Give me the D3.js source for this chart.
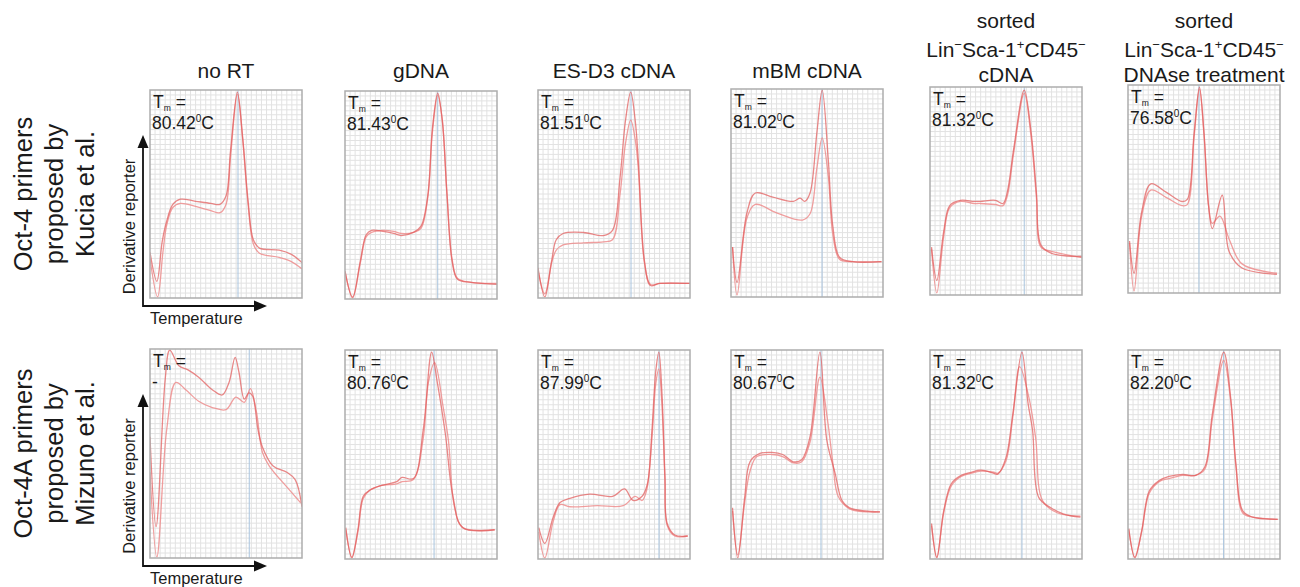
<!DOCTYPE html>
<head>
<meta charset="utf-8">
<title>Oct-4 melt curves</title>
<script src="https://d3js.org/d3.v7.min.js"></script>
<style>
  body { margin: 0; background: #fff; }
  text { font-family: "Liberation Sans", Arial, sans-serif; fill: #1a1a1a; }
</style>
</head>
<body>
<div id="chart"></div>
<script>
// column / row headers
var colTitles = [["no RT"], ["gDNA"], ["ES-D3 cDNA"], ["mBM cDNA"],
  ["sorted", "Lin^-Sca-1^+CD45^-", "cDNA"],
  ["sorted", "Lin^-Sca-1^+CD45^-", "DNAse treatment"]];
var rowLabels = [["Oct-4 primers", "proposed by", "Kucia et al."],
  ["Oct-4A primers", "proposed by", "Mizuno et al."]];

// Tm values and where the Tm marker sits (% of panel width)
var tmKucia = ["80.42", "81.43", "81.51", "81.02", "81.32", "76.58"];
var tmMizuno = ["-", "80.76", "87.99", "80.67", "81.32", "82.20"];
var tmPosKucia = [57.9, 61, 61.2, 59.9, 62, 46.7];
var tmPosMizuno = [65.3, 58.6, 79.6, 59.2, 60.5, 62.9];

// melt curves, [temperature %, derivative %], two replicates per panel
var kuciaA = [
  [[0,22],[4.5,8],[8,27],[11,37],[15,45],[20,47.5],[30,46.5],[40,45.5],[46,45],[50,49],[53,71],[57.5,99],[61,77],[64.5,47],[68,28],[72,24],[85,23],[93,21],[100,17]],
  [[0,13.5],[5,0.5],[10,18],[14,31],[17.5,33],[25,32.5],[32,31.5],[37,30.5],[45,32],[50,35],[54.5,50],[57.5,82],[61,99],[64,86],[67,51],[70.5,18],[74,9.5],[83,8],[100,7]],
  [[0,14.5],[4.5,0.5],[9,18],[12,28],[16.5,31],[30,31.5],[43,30],[49,32.5],[54,58],[57.5,85],[61,99],[64,85],[66,66],[70,18],[74,6],[80,7],[100,7]],
  [[1,24],[4,7],[10.5,40.5],[16,50],[27.5,48],[41,46],[45.5,47.5],[48.5,46],[52,50],[56.5,79],[60,99.5],[64,66],[67,34],[71.5,19],[80,17],[99,17]],
  [[1,23],[4.5,7],[9,30.5],[13,43],[20,45.5],[29,45],[33,45],[43,45.5],[48,44],[51,50],[55,70],[62,98.5],[66.5,78.5],[70,49.5],[73,24],[80,20],[100,18.5]],
  [[1,25],[4,9.5],[9,39],[15,52.5],[25,48.5],[35.5,44],[39,45],[43.5,77],[47,99],[50,77],[53,42],[55.5,31],[62,47],[66.5,20],[75,12],[98,9]]
];
var kuciaB = [
  [[0,19],[5,0.5],[8.5,22],[11,35],[15,43.5],[20,45.5],[30,44],[40,42],[46,41],[50,45],[53,68],[57.5,98],[61,76],[64.5,45],[68,26],[72,21.5],[85,19.5],[93,17.5],[100,14]],
  [[0,13],[5,1],[10,17],[14,30],[17.5,32],[25,33],[32,32.5],[37,31.5],[45,32],[50,34],[54.5,49],[57.5,80],[61,98],[64,86],[67,52],[70.5,19],[74,10],[83,8],[100,7.5]],
  [[0,13],[4.5,2],[9,17],[12,23],[16.5,25.5],[30,26.5],[43,27],[49,28],[54,50],[57.5,74],[61,85.5],[64,76],[66,62],[70,17],[74,6.5],[80,7],[100,7]],
  [[1,24],[4,1],[10.5,38],[16,44.5],[30,40.5],[47,37],[52,40],[56.5,62],[60,76.5],[64,58],[67,30],[71.5,18],[80,17],[99,17]],
  [[1,22],[4.5,1],[9,28],[13,42],[20,45],[29,44],[33,44],[43,43.5],[48,43],[51,48],[55,68],[62,97],[66.5,76],[70,47],[73,23],[80,21],[100,18]],
  [[1,24],[4,1],[9,37],[15,49.5],[25,46],[35.5,42],[39,42.5],[43.5,75],[47,98],[50,76],[53,42],[55.5,33.5],[60.5,37],[66.5,26],[75,14],[98,9.5]]
];
var mizunoA = [
  [[0,58],[4,15],[10,85.5],[13,99.5],[19,92],[25,90],[32,86.5],[41,80.5],[47.5,78],[52,84],[56,96],[58.5,89],[62,76],[65,79],[67.5,77.5],[71,61.5],[74,53],[81,44],[90,41],[95.5,37.5],[100,24.5]],
  [[0.5,15],[4.5,0.5],[8.5,14],[12,30],[16.5,33],[23,35],[34,37],[37.5,39],[45,38.5],[51.5,62],[57,99],[60.5,85.5],[66,60],[71,30],[77.5,15],[98.5,14]],
  [[0.5,15],[4.5,7.5],[10,20],[14.5,27],[21,29],[34,31],[49,30],[57,33.5],[62.5,28],[68.5,30],[72,36],[75,62],[77.5,90],[79.5,99],[81.5,80],[83.5,40],[85,17],[90,11.5],[98.5,11]],
  [[1,24.5],[4.5,0.5],[9,29.5],[12.5,46.5],[19,50.5],[27,51],[34,50],[41,46.5],[46.5,47.5],[52,58.5],[58.5,99],[63,57],[68.5,41],[73,28],[78,24.5],[98,22.5]],
  [[1,17],[4.5,0.5],[9,23],[14,36],[20.5,40],[27,41.5],[33.5,42.5],[42,41],[44.5,40.5],[50,48.5],[54.5,69.5],[60.5,99],[64.5,74.5],[67.5,61.5],[71.5,29.5],[79.5,24.5],[88,21.5],[99,20]],
  [[0.5,14.5],[4.5,0.5],[9,13.5],[14,32.5],[20.5,37.5],[27,39.5],[36,40.5],[44.5,40],[50.5,44],[55.5,69.5],[63,99],[67.5,77.5],[71,45.5],[75.5,23],[82,20],[98.5,19]]
];
var mizunoB = [
  [[0,41],[4.5,0.5],[11,61.5],[17,84],[23.5,80.5],[32,75],[41,72],[50,71],[56.5,77],[62,74.5],[66,81],[70,70],[74,50.5],[78.5,44],[90,34],[99,26.5]],
  [[0.5,14],[4.5,1],[8.5,13],[12,29],[16.5,33],[23,35],[34,36],[37.5,37],[45,38],[51.5,58],[55,85],[59,94],[64.5,73],[68,57],[72,25],[77.5,15],[98.5,14]],
  [[0.5,13],[4.5,0.5],[10,18],[14.5,26],[21,25],[39,25.5],[56,25.5],[64,30],[68.5,28],[71.5,33],[75,58],[77.5,84],[79.5,91],[81.5,74],[83.5,38],[85,16],[90,11],[98.5,11]],
  [[1,23],[4.5,2],[9,27],[12.5,42],[17,49],[27,50],[34,49],[41,46],[46.5,46.5],[52,56],[58.5,87],[63.5,66.5],[67,46],[70.5,30],[78,24],[98,22.5]],
  [[1,16],[4.5,1],[9,22],[14,35],[20.5,39.5],[27,41],[33.5,42],[42,41.5],[44.5,41],[50,47],[54.5,68],[59,92],[65,77.5],[69.5,58],[74,28],[84,22],[99,20.5]],
  [[0.5,14],[4.5,1],[9,13],[14,31.5],[20.5,37],[27,38.5],[36,40],[44.5,40],[50.5,43],[55.5,67],[63,95],[67.5,76],[71,44],[75.5,22],[82,20],[98.5,19]]
];

// layout
var colLeft = [150, 345, 538, 731, 930, 1128];
var panelW = 152;
var rowTop = [[90, 91, 90, 89, 87, 85], [349, 350, 350, 350, 350, 350]];
var panelH = [208, 209];

var rows = [
  {a: kuciaA, b: kuciaB, tm: tmKucia, tmPos: tmPosKucia, labels: rowLabels[0]},
  {a: mizunoA, b: mizunoB, tm: tmMizuno, tmPos: tmPosMizuno, labels: rowLabels[1]}
];

var svg = d3.select("#chart").append("svg")
  .attr("width", 1300)
  .attr("height", 587);

var defs = svg.append("defs");

// writes "Lin^-Sca" style strings with raised characters
function supText(sel, str) {
  var back = 0;
  str.split(/(\^.)/).forEach(function(p) {
    if (!p) return;
    if (p[0] === "^") {
      sel.append("tspan").attr("font-size", 13).attr("dy", -8)
        .text(p[1] === "-" ? "\u2212" : p[1]);
      back = 8;
    } else {
      sel.append("tspan").attr("dy", back).text(p);
      back = 0;
    }
  });
}

// column titles
colTitles.forEach(function(lines, c) {
  var cx = colLeft[c] + panelW / 2;
  var base = lines.length === 1 ? [78] : [28, 57, 82];
  lines.forEach(function(line, i) {
    var t = svg.append("text")
      .attr("x", cx).attr("y", base[i])
      .attr("text-anchor", "middle")
      .attr("font-size", 21);
    supText(t, line);
  });
});

var line = d3.line().curve(d3.curveCatmullRom.alpha(0.5));

rows.forEach(function(row, r) {
  var h = panelH[r];

  d3.range(6).forEach(function(c) {
    var x0 = colLeft[c], y0 = rowTop[r][c];
    var x = d3.scaleLinear().domain([0, 100]).range([x0, x0 + panelW]);
    var y = d3.scaleLinear().domain([0, 100]).range([y0 + h, y0]);
    var g = svg.append("g");

    g.append("rect")
      .attr("x", x0).attr("y", y0).attr("width", panelW).attr("height", h)
      .attr("fill", "#fff");

    // fine grid
    g.selectAll(".vg").data(d3.range(1, 30).map(function(i) { return i * 100 / 30; }))
      .enter().append("line")
      .attr("x1", function(d) { return x(d); }).attr("x2", function(d) { return x(d); })
      .attr("y1", y0).attr("y2", y0 + h)
      .attr("stroke", "#e2e2e2").attr("stroke-width", 1);
    g.selectAll(".hg").data(d3.range(1, 42).map(function(i) { return i * 100 / 42; }))
      .enter().append("line")
      .attr("y1", function(d) { return y(d); }).attr("y2", function(d) { return y(d); })
      .attr("x1", x0).attr("x2", x0 + panelW)
      .attr("stroke", "#e2e2e2").attr("stroke-width", 1);

    // Tm marker
    g.append("line")
      .attr("x1", x(row.tmPos[c])).attr("x2", x(row.tmPos[c]))
      .attr("y1", y0).attr("y2", y0 + h)
      .attr("stroke", "#a9c4de").attr("stroke-width", 1);

    var clipId = "clip" + r + c;
    defs.append("clipPath").attr("id", clipId)
      .append("rect").attr("x", x0).attr("y", y0).attr("width", panelW).attr("height", h);

    line.x(function(d) { return x(d[0]); }).y(function(d) { return y(d[1]); });

    g.append("path")
      .attr("d", line(row.b[c]))
      .attr("clip-path", "url(#" + clipId + ")")
      .attr("fill", "none")
      .attr("stroke", "#ee8787").attr("stroke-opacity", 0.8).attr("stroke-width", 1.3);
    g.append("path")
      .attr("d", line(row.a[c]))
      .attr("clip-path", "url(#" + clipId + ")")
      .attr("fill", "none")
      .attr("stroke", "#e25b5b").attr("stroke-opacity", 0.72).attr("stroke-width", 1.3);

    g.append("rect")
      .attr("x", x0).attr("y", y0).attr("width", panelW).attr("height", h)
      .attr("fill", "none").attr("stroke", "#adadad").attr("stroke-width", 1.5);

    // Tm label
    var t1 = g.append("text").attr("x", x0 + 3).attr("y", y0 + 18).attr("font-size", 17.5);
    t1.append("tspan").text("T");
    t1.append("tspan").attr("font-size", 8.5).attr("dy", 3).text("m");
    t1.append("tspan").attr("dy", -3).text(" =");
    var t2 = g.append("text").attr("x", x0 + 2).attr("y", y0 + 39).attr("font-size", 17.5);
    t2.append("tspan").text(row.tm[c]);
    if (row.tm[c] !== "-") {
      t2.append("tspan").attr("font-size", 10).attr("dy", -7).text("0");
      t2.append("tspan").attr("dy", 7).text("C");
    }
  });

  // axis arrows beside the first column
  var ax = colLeft[0] - 7;
  var corner = rowTop[r][0] + h + 8;
  var tipY = rowTop[r][0] + 45;
  var tipX = colLeft[0] + 117;
  svg.append("path")
    .attr("d", "M" + ax + "," + (tipY + 12) + "V" + corner + "H" + (tipX - 12))
    .attr("fill", "none").attr("stroke", "#111").attr("stroke-width", 1.8);
  svg.append("path")
    .attr("d", "M" + ax + "," + tipY + "L" + (ax - 5.5) + "," + (tipY + 13) + "L" + (ax + 5.5) + "," + (tipY + 13) + "Z")
    .attr("fill", "#111");
  svg.append("path")
    .attr("d", "M" + tipX + "," + corner + "L" + (tipX - 13) + "," + (corner - 5.5) + "L" + (tipX - 13) + "," + (corner + 5.5) + "Z")
    .attr("fill", "#111");

  svg.append("text")
    .attr("x", colLeft[0]).attr("y", corner + 18)
    .attr("font-size", 16.5)
    .text("Temperature");

  var midY = (tipY + corner) / 2 + 6;
  svg.append("text")
    .attr("transform", "translate(" + (ax - 8) + "," + midY + ") rotate(-90)")
    .attr("text-anchor", "middle")
    .attr("font-size", 16.5)
    .text("Derivative reporter");

  // row label
  var cy = rowTop[r][0] + h / 2;
  row.labels.forEach(function(lbl, i) {
    svg.append("text")
      .attr("transform", "translate(" + (32 + i * 31) + "," + cy + ") rotate(-90)")
      .attr("text-anchor", "middle")
      .attr("font-size", 25.5)
      .text(lbl);
  });
});
</script>
</body>
